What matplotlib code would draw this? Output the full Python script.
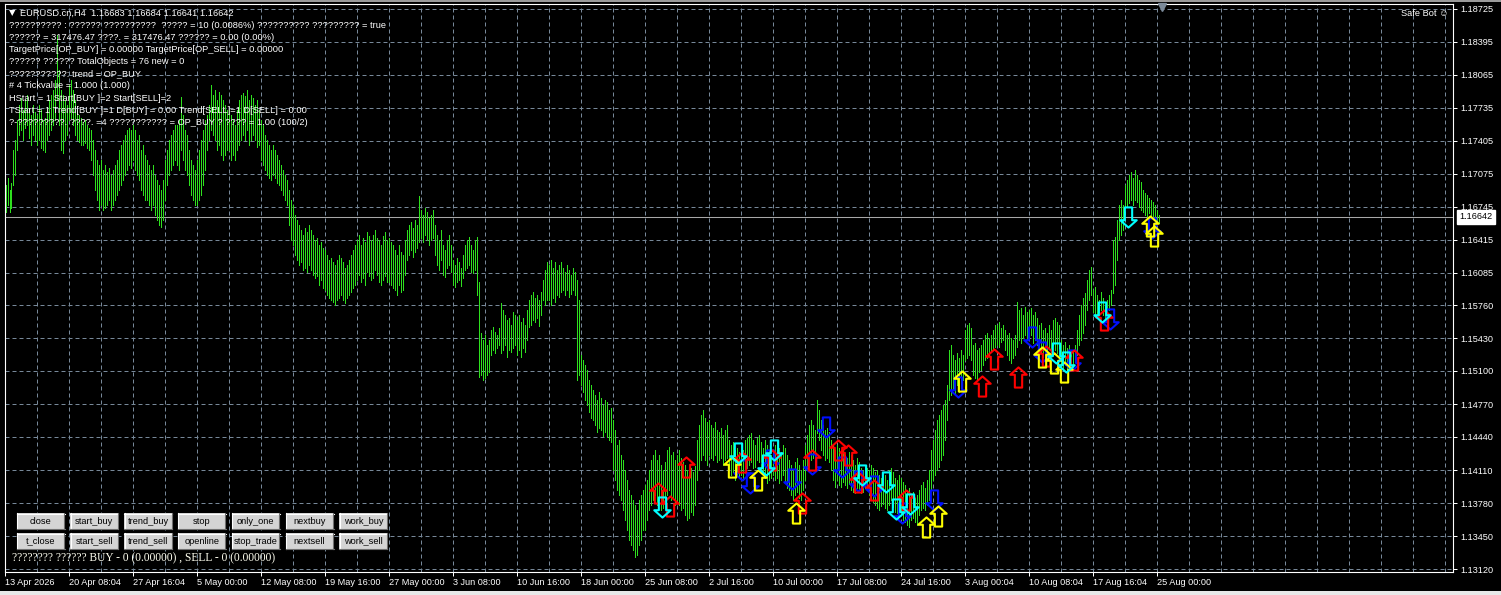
import numpy as np
import matplotlib
matplotlib.use('Agg')
import matplotlib.pyplot as plt
import matplotlib.patches as patches
import matplotlib.transforms as mtransforms
from matplotlib.path import Path

plt.rcParams['font.family'] = ['Liberation Sans', 'DejaVu Sans']

# price levels are stored as points (0.0001) below this reference level
REF_PRICE = 1.1881

# H4 bars, high / low (points below REF_PRICE), oldest first
high_pts = [
    185, 178, 190, 183, 150, 140, 120, 105, 98, 110, 100, 95, 108, 115, 105, 112,
    115, 105, 110, 120, 118, 108, 100, 95, 90, 80, 35, 70, 90, 95, 100, 105,
    85, 80, 90, 100, 110, 115, 118, 122, 120, 125, 128, 130, 140, 150, 160, 165,
    160, 170, 165, 172, 168, 175, 170, 165, 160, 150, 145, 140, 135, 130, 128, 130,
    125, 130, 140, 135, 150, 145, 155, 160, 165, 170, 165, 175, 180, 185, 190, 180,
    160, 150, 140, 135, 130, 125, 125, 120, 97, 115, 130, 135, 150, 160, 165, 170,
    160, 150, 140, 130, 120, 115, 105, 85, 95, 90, 100, 92, 95, 100, 105, 110,
    110, 115, 120, 125, 110, 100, 95, 93, 96, 90, 100, 95, 98, 105, 100, 110,
    120, 125, 135, 140, 145, 150, 145, 150, 155, 160, 165, 170, 175, 180, 190, 200,
    205, 215, 220, 225, 230, 235, 228, 232, 225, 230, 235, 240, 238, 245, 242, 248,
    250, 255, 260, 258, 262, 265, 260, 255, 258, 262, 268, 265, 260, 255, 250, 245,
    240, 235, 245, 238, 242, 232, 236, 240, 235, 230, 238, 240, 245, 236, 232, 240,
    238, 242, 245, 250, 255, 245, 252, 255, 240, 230, 225, 222, 228, 220, 225, 196,
    210, 215, 208, 212, 218, 215, 210, 225, 235, 240, 230, 245, 250, 240, 235, 245,
    260, 265, 258, 262, 268, 255, 245, 240, 237, 245, 250, 240, 237, 282, 333, 340,
    335, 345, 340, 330, 327, 332, 335, 328, 303, 310, 315, 320, 318, 325, 312, 315,
    320, 315, 322, 318, 325, 310, 300, 295, 292, 298, 295, 300, 292, 280, 270, 262,
    265, 260, 268, 262, 270, 265, 262, 268, 272, 265, 270, 275, 268, 272, 280, 300,
    355, 360, 365, 370, 380, 385, 390, 395, 400, 392, 398, 405, 400, 402, 410, 408,
    420, 430, 445, 440, 455, 460, 470, 480, 490, 495, 500, 505, 510, 500, 495, 490,
    485, 480, 470, 460, 455, 450, 460, 455, 465, 470, 462, 450, 447, 455, 452, 460,
    455, 450, 458, 462, 465, 470, 475, 468, 472, 466, 440, 425, 415, 410, 418, 422,
    420, 425, 428, 422, 430, 432, 428, 435, 430, 425, 440, 445, 442, 450, 448, 452,
    445, 450, 440, 438, 435, 433, 440, 445, 438, 435, 442, 448, 440, 445, 450, 455,
    450, 445, 440, 448, 452, 445, 448, 455, 460, 465, 470, 462, 458, 465, 470, 460,
    445, 435, 425, 420, 425, 430, 400, 410, 420, 425, 430, 428, 432, 440, 445, 450,
    445, 448, 452, 450, 455, 458, 452, 455, 460, 465, 458, 462, 468, 470, 465, 468,
    470, 465, 468, 472, 470, 475, 478, 472, 475, 480, 470, 468, 472, 478, 480, 475,
    478, 482, 485, 490, 488, 495, 492, 498, 495, 490, 485, 482, 488, 480, 470, 450,
    440, 430, 420, 415, 410, 405, 400, 385, 350, 345, 355, 360, 353, 358, 350, 355,
    330, 325, 323, 328, 345, 343, 350, 348, 345, 340, 335, 333, 338, 335, 330, 325,
    325, 322, 328, 325, 330, 335, 333, 338, 340, 335, 302, 310, 308, 315, 307, 312,
    310, 308, 315, 312, 318, 325, 323, 330, 328, 333, 325, 330, 320, 318, 322, 325,
    340, 345, 342, 348, 345, 350, 352, 345, 330, 315, 305, 298, 293, 280, 270, 267,
    290, 287, 295, 300, 292, 298, 305, 300, 295, 290, 240, 237, 220, 205, 200, 205,
    185, 180, 175, 172, 178, 170, 175, 180, 182, 190, 193, 195, 198, 200, 202, 205,
    210, 215,
]
low_pts = [
    212, 205, 212, 208, 185, 175, 150, 135, 130, 140, 128, 125, 138, 145, 135, 140,
    145, 140, 148, 150, 152, 140, 135, 130, 125, 120, 100, 125, 150, 153, 140, 135,
    120, 118, 125, 135, 140, 142, 145, 145, 143, 148, 150, 160, 175, 190, 200, 210,
    205, 210, 208, 205, 200, 210, 205, 200, 195, 190, 185, 180, 175, 170, 165, 168,
    160, 170, 175, 180, 190, 195, 200, 200, 205, 210, 205, 215, 220, 225, 227, 220,
    200, 185, 175, 170, 165, 160, 165, 170, 150, 160, 170, 175, 185, 195, 200, 205,
    205, 200, 195, 185, 170, 150, 140, 130, 135, 140, 150, 145, 155, 160, 155, 150,
    150, 160, 155, 160, 150, 145, 140, 135, 140, 130, 145, 140, 135, 140, 147, 145,
    160, 165, 170, 175, 178, 180, 175, 178, 183, 185, 190, 195, 200, 205, 225, 240,
    245, 255, 260, 265, 262, 270, 268, 272, 265, 270, 275, 278, 276, 285, 280, 288,
    290, 295, 298, 300, 302, 305, 300, 298, 295, 300, 303, 298, 295, 292, 288, 285,
    280, 275, 282, 278, 285, 272, 276, 280, 278, 270, 275, 282, 285, 280, 276, 282,
    282, 285, 288, 290, 295, 285, 292, 290, 275, 260, 255, 250, 257, 252, 248, 242,
    238, 242, 235, 240, 245, 240, 238, 255, 265, 270, 260, 275, 277, 268, 265, 272,
    285, 287, 282, 280, 286, 278, 270, 268, 265, 272, 273, 270, 295, 377, 375, 380,
    378, 375, 372, 355, 350, 353, 348, 345, 353, 350, 345, 357, 350, 352, 348, 345,
    355, 350, 357, 348, 352, 340, 327, 325, 320, 322, 318, 326, 315, 300, 305, 300,
    300, 305, 298, 302, 295, 297, 292, 290, 295, 290, 297, 294, 290, 295, 380, 375,
    385, 392, 400, 405, 412, 418, 420, 425, 432, 428, 430, 436, 432, 437, 440, 442,
    470, 480, 490, 495, 500, 510, 520, 530, 540, 545, 550, 557, 555, 545, 540, 530,
    530, 520, 510, 505, 500, 495, 505, 500, 510, 508, 500, 495, 490, 500, 497, 505,
    500, 505, 510, 508, 515, 520, 518, 512, 515, 505, 480, 470, 460, 455, 460, 465,
    455, 458, 460, 455, 462, 460, 458, 465, 460, 458, 470, 475, 472, 480, 476, 478,
    475, 480, 470, 468, 465, 462, 468, 467, 460, 462, 470, 475, 478, 483, 480, 478,
    475, 480, 478, 483, 480, 475, 482, 488, 490, 495, 500, 495, 492, 498, 500, 490,
    480, 470, 465, 460, 458, 463, 433, 440, 450, 455, 460, 458, 462, 470, 480, 487,
    480, 485, 487, 482, 485, 488, 484, 490, 492, 493, 488, 490, 493, 492, 488, 490,
    495, 500, 502, 505, 508, 510, 506, 504, 508, 510, 505, 500, 507, 512, 513, 510,
    515, 520, 522, 525, 527, 520, 518, 522, 525, 515, 510, 508, 510, 505, 500, 490,
    480, 475, 470, 467, 460, 455, 440, 420, 400, 395, 390, 393, 385, 392, 388, 380,
    360, 358, 355, 360, 375, 378, 380, 372, 370, 365, 360, 358, 355, 352, 350, 347,
    345, 347, 342, 340, 350, 355, 360, 363, 358, 355, 347, 340, 343, 338, 335, 340,
    338, 335, 343, 340, 345, 350, 352, 357, 350, 355, 348, 352, 345, 350, 353, 348,
    365, 368, 365, 370, 368, 366, 370, 362, 355, 345, 340, 333, 325, 310, 300, 295,
    312, 315, 317, 312, 310, 315, 318, 313, 310, 305, 293, 285, 260, 240, 235, 230,
    205, 207, 203, 200, 205, 200, 202, 207, 210, 212, 215, 217, 213, 215, 216, 218,
    220, 223,
]

last_price = 1.16642
quote = "EURUSD.cn,H4  1.16683 1.16684 1.16641 1.16642"

price_labels = ["1.18725", "1.18395", "1.18065", "1.17735", "1.17405", "1.17075",
                "1.16745", "1.16415", "1.16085", "1.15760", "1.15430", "1.15100",
                "1.14770", "1.14440", "1.14110", "1.13780", "1.13450", "1.13120"]
time_labels = ["13 Apr 2026", "20 Apr 08:04", "27 Apr 16:04", "5 May 00:00",
               "12 May 08:00", "19 May 16:00", "27 May 00:00", "3 Jun 08:00",
               "10 Jun 16:00", "18 Jun 00:00", "25 Jun 08:00", "2 Jul 16:00",
               "10 Jul 00:00", "17 Jul 08:00", "24 Jul 16:00", "3 Aug 00:04",
               "10 Aug 08:04", "17 Aug 16:04", "25 Aug 00:00"]

# signal arrows: bar index and price
red_up_bar = [326, 332, 340, 368, 383, 403, 398, 416, 421, 426, 434, 450, 488, 494, 506, 520, 534, 549]
red_up_px = [1.1388, 1.1375, 1.1414, 1.1419, 1.1421, 1.1421, 1.1378, 1.1431, 1.1426,
             1.1399, 1.1391, 1.1381, 1.1495, 1.1522, 1.1504, 1.1525, 1.1521, 1.1561]
yel_up_bar = [363, 376, 395, 460, 466, 478, 518, 524, 529, 572, 574]
yel_up_px = [1.1414, 1.1401, 1.1368, 1.1354, 1.1365, 1.1500, 1.1524, 1.1518, 1.1509, 1.1655, 1.1645]
cyan_dn_bar = [328, 366, 380, 384, 428, 440, 445, 452, 525, 530, 548, 561]
cyan_dn_px = [1.1374, 1.1428, 1.1416, 1.1431, 1.1406, 1.1399, 1.1372, 1.1377,
              1.1528, 1.1519, 1.1569, 1.1664]
blue_dn_bar = [368, 372, 382, 393, 410, 403, 418, 426, 434, 448, 464, 476, 513, 518, 533, 552, 573]
blue_dn_px = [1.1411, 1.1398, 1.1421, 1.1402, 1.1454, 1.1417, 1.1414, 1.1400, 1.1395,
              1.1368, 1.1381, 1.1494, 1.1544, 1.1529, 1.1521, 1.1562, 1.1653]

info_lines = [
    "?????????? : ?????? ??????????  ????? = 10 (0.0086%) ?????????? ????????? = true",
    "?????? = 317476.47 ????. = 317476.47 ?????? = 0.00 (0.00%)",
    "TargetPrice[OP_BUY] = 0.00000 TargetPrice[OP_SELL] = 0.00000",
    "?????? ?????? TotalObjects = 76 new = 0",
    "???????????: trend = OP_BUY",
    "# 4 Tickvalue = 1.000 (1.000)",
    "HStart = 1 Start[BUY ]=2 Start[SELL]=2",
    "TStart = 1 Trend[BUY ]=1 D[BUY] = 0.00 Trend[SELL]=1 D[SELL] = 0.00",
    "?-?????????. ????. =4 ??????????? = OP_BUY ? ???? = 1.00 (100/2)",
]
buttons_top = ["close", "start_buy", "trend_buy", "stop", "only_one", "nextbuy", "work_buy"]
buttons_bot = ["t_close", "start_sell", "trend_sell", "openline", "stop_trade", "nextsell", "work_sell"]
status_line = "???????? ?????? BUY - 0 (0.00000) , SELL - 0 (0.00000)"

W, H = 1501, 595
fig = plt.figure(figsize=(W / 100, H / 100), dpi=100, facecolor='black')
ax = fig.add_axes([5 / W, (H - 572) / H, 1448 / W, 568 / H])
ax.set_facecolor('black')

highs = REF_PRICE - np.array(high_pts) / 1e4
lows = REF_PRICE - np.array(low_pts) / 1e4
xs = np.arange(len(highs)) + 0.25

ax.set_xlim(0, 724)
ax.set_ylim(REF_PRICE - 572 / 1e4, REF_PRICE - 4 / 1e4)

# grid
grid_kw = dict(color='#778899', lw=0.72, ls=(0, (4, 3)))
ax.set_xticks(np.arange(0, 577, 32))
ax.set_xticks(np.arange(0, 724, 16), minor=True)
ax.set_xticklabels(time_labels, ha='left')
ax.yaxis.tick_right()
ax.set_yticks([float(p) for p in price_labels])
ax.set_yticklabels(price_labels)
ax.grid(True, which='both', axis='x', **grid_kw)
ax.grid(True, which='major', axis='y', **grid_kw)
ax.set_axisbelow(True)

ax.tick_params(axis='x', which='major', colors='white', length=3, width=0.72,
               pad=1.5, labelsize=6.6)
ax.tick_params(axis='x', which='minor', length=0)
ax.tick_params(axis='y', colors='white', length=3, width=0.72, pad=2.5, labelsize=6.6)
for s in ax.spines.values():
    s.set_color('white')
    s.set_linewidth(0.8)

# bars, one pixel wide
ax.vlines(xs, lows, highs, colors='#2ee01e', lw=0.5, antialiased=False, zorder=2)

# bid line and price tag
ax.axhline(last_price, color='#a8a8a8', lw=0.75, zorder=1.5)
tr = mtransforms.blended_transform_factory(ax.transAxes, ax.transData)
ax.text(1.0045, last_price, f"{last_price:.5f}", transform=tr, ha='left', va='center',
        fontsize=6.6, color='black', clip_on=False,
        bbox=dict(boxstyle='square,pad=0.3', fc='white', ec='white'))

# chart shift marker
ax.plot([len(highs) + 0.5], [REF_PRICE - 7 / 1e4], marker='v', ms=6, color='#7b8a9a',
        clip_on=False, zorder=5)

# arrows
up_verts = [(0, 11), (9, 3), (4, 3), (4, -11), (-4, -11), (-4, 3), (-9, 3), (0, 11)]
up_codes = [Path.MOVETO] + [Path.LINETO] * 6 + [Path.CLOSEPOLY]
up_arrow = Path(up_verts, up_codes)
dn_arrow = Path([(x, -y) for x, y in up_verts], up_codes)


def draw_arrows(bars, prices, marker, color):
    ax.plot(np.array(bars) + 0.5, prices, ls='none', marker=marker, ms=14.5,
            mfc='none', mec=color, mew=1.5, zorder=4)


draw_arrows(blue_dn_bar, blue_dn_px, dn_arrow, '#0010ff')
draw_arrows(red_up_bar, red_up_px, up_arrow, '#ff0000')
draw_arrows(yel_up_bar, yel_up_px, up_arrow, '#ffff00')
draw_arrows(cyan_dn_bar, cyan_dn_px, dn_arrow, '#00ffff')

# overlay in pixel units for the terminal widgets
ov = fig.add_axes([0, 0, 1, 1])
ov.set_xlim(0, W)
ov.set_ylim(H, 0)
ov.axis('off')
ov.patch.set_alpha(0)

ov.add_patch(patches.Rectangle((0, 0), W, 2, fc='#9a9a9a', ec='none'))
ov.add_patch(patches.Rectangle((0, 591), W, 4, fc='#e8e8e8', ec='none'))

ov.text(9, 13, "\u25bc", color='white', fontsize=6, va='center', ha='left',
        family=['DejaVu Sans'])
ov.text(20, 13, quote, color='white', fontsize=6.7, va='center', ha='left')
for k, line in enumerate(info_lines):
    ov.text(9, 25.5 + 12.1 * k, line, color='white', fontsize=6.7, va='center', ha='left')

ov.text(1449, 13, "Safe Bot \u263a", color='white', fontsize=6.7, va='center', ha='right',
        family=['Liberation Sans', 'DejaVu Sans'])

for row, (labels, y0) in enumerate([(buttons_top, 513), (buttons_bot, 533)]):
    for k, lab in enumerate(labels):
        x0 = 16.5 + 53.8 * k
        ov.add_patch(patches.Rectangle((x0, y0), 48, 16, fc='#d4d4d4', ec='none'))
        ov.plot([x0, x0 + 48], [y0 + 0.5, y0 + 0.5], color='white', lw=0.8)
        ov.plot([x0 + 0.5, x0 + 0.5], [y0, y0 + 16], color='white', lw=0.8)
        ov.plot([x0, x0 + 48], [y0 + 15.5, y0 + 15.5], color='#707070', lw=0.8)
        ov.plot([x0 + 47.5, x0 + 47.5], [y0, y0 + 16], color='#707070', lw=0.8)
        ov.text(x0 + 24, y0 + 8, lab, color='black', fontsize=6.7, ha='center', va='center')

ov.text(12, 558, status_line, color='#fffff0', fontsize=8.3, va='center', ha='left',
        family=['Liberation Serif'])

fig.savefig('out.png', dpi=100, facecolor='black')
